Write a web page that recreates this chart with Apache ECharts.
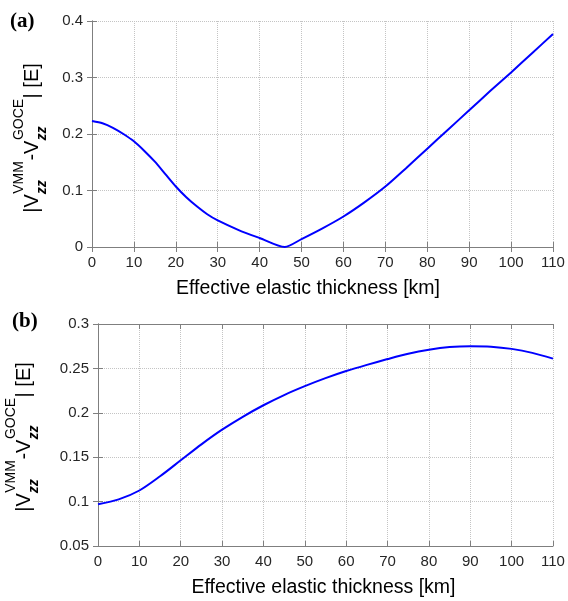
<!DOCTYPE html>
<html>
<head>
<meta charset="utf-8">
<script src="https://cdn.jsdelivr.net/npm/echarts@6/dist/echarts.min.js"></script>
<style>
html,body{margin:0;padding:0;background:#fff;}
#chart{width:568px;height:601px;}
</style>
</head>
<body>
<div id="chart"></div>
<script>
// ---- data ----
const thicknessA = [0, 2.5, 5, 7.5, 10, 12.5, 15, 17.5, 20, 22.5, 25, 27.5, 30, 35, 40, 46, 50, 55, 60, 65, 70, 75, 80, 85, 90, 95, 100, 105, 110];
const misfitA = [0.223, 0.219, 0.211, 0.200, 0.187, 0.170, 0.151, 0.129, 0.107, 0.088, 0.072, 0.058, 0.047, 0.030, 0.016, 0.000, 0.014, 0.033, 0.054, 0.079, 0.107, 0.140, 0.174, 0.208, 0.242, 0.276, 0.309, 0.343, 0.377];
const thicknessB = [0, 5, 10, 15, 20, 25, 30, 35, 40, 45, 50, 55, 60, 65, 70, 75, 80, 85, 90, 95, 100, 105, 110];
const misfitB = [0.097, 0.1025, 0.1125, 0.1285, 0.1465, 0.1645, 0.181, 0.1955, 0.2085, 0.2200, 0.2300, 0.2390, 0.2470, 0.2540, 0.2605, 0.2665, 0.2710, 0.2740, 0.2750, 0.2745, 0.2720, 0.2675, 0.2610];
const xTitle = 'Effective elastic thickness [km]';
const panelLabels = ['(a)', '(b)'];

const FF = '"Liberation Sans", Arial, Helvetica, sans-serif';
const mainFont = '20px ' + FF;
const supFont = '14px ' + FF;
const subFont = 'italic bold 14px ' + FF;
const cvs = document.createElement('canvas').getContext('2d');
function tw(t, f){ cvs.font = f; return cvs.measureText(t).width; }

function yTitle(mainX, centerY){
  const supX = mainX - 13, subX = mainX + 10;
  const parts = [];
  let lx = 0;
  function main(t){ parts.push({type:'text', x: lx, y: mainX, style:{text:t, font:mainFont, fill:'#000', align:'left', verticalAlign:'middle'}}); lx += tw(t, mainFont); }
  function supsub(sup, sub){
    parts.push({type:'text', x: lx + 0.5, y: supX, style:{text:sup, font:supFont, fill:'#000', align:'left', verticalAlign:'middle'}});
    parts.push({type:'text', x: lx, y: subX, style:{text:sub, font:subFont, fill:'#000', align:'left', verticalAlign:'middle'}});
    lx += Math.max(tw(sup, supFont), tw(sub, subFont)) + 1;
  }
  main('|V'); supsub('VMM', 'zz'); main('-V'); supsub('GOCE', 'zz'); main('| [E]');
  const total = lx;
  return {type:'group', x: 0, y: centerY + total / 2, rotation: Math.PI / 2, children: parts, silent: true};
}

function xAx(gi, pos, showLabel, pad){
  return {
    type:'value', gridIndex: gi, position: pos, min: 0, max: 110, interval: 10,
    axisLine:{show:true, lineStyle:{color:'#7f7f7f', width:1}},
    axisTick:{show:true, inside:true, length:5, lineStyle:{color:'#7f7f7f'}},
    axisLabel:{show: showLabel, color:'#262626', fontSize:15, fontFamily:FF, margin:8},
    splitLine:{show: showLabel, lineStyle:{color:'#c4c4c4', type:[1,1], width:1}},
    name: showLabel ? xTitle : '', nameLocation:'middle', nameGap: 32,
    nameTextStyle:{color:'#000', fontSize:19.5, fontFamily:FF, verticalAlign:'top', padding: pad}
  };
}
function yAx(gi, pos, showLabel, mn, mx, iv){
  return {
    type:'value', gridIndex: gi, position: pos, min: mn, max: mx, interval: iv,
    axisLine:{show:true, lineStyle:{color:'#7f7f7f', width:1}},
    axisTick:{show:true, inside:true, length:5, lineStyle:{color:'#7f7f7f'}},
    axisLabel:{show: showLabel, color:'#262626', fontSize:15, fontFamily:FF, margin:9},
    splitLine:{show: showLabel, lineStyle:{color:'#c4c4c4', type:[1,1], width:1}}
  };
}

const chart = echarts.init(document.getElementById('chart'), null, {renderer:'canvas'});
chart.setOption({
  backgroundColor:'#fff',
  animation:false,
  grid:[
    {left:92, top:21, width:461, height:226},
    {left:98, top:324, width:455, height:222}
  ],
  xAxis:[
    xAx(0, 'bottom', true, [0, 29, 0, 0]),
    xAx(0, 'top', false, 0),
    xAx(1, 'bottom', true, [0, 4, 0, 0]),
    xAx(1, 'top', false, 0)
  ],
  yAxis:[
    yAx(0, 'left', true, 0, 0.4, 0.1),
    yAx(0, 'right', false, 0, 0.4, 0.1),
    yAx(1, 'left', true, 0.05, 0.3, 0.05),
    yAx(1, 'right', false, 0.05, 0.3, 0.05)
  ],
  series:[
    {type:'line', xAxisIndex:0, yAxisIndex:0, data: thicknessA.map((x,i)=>[x, misfitA[i]]),
     showSymbol:false, smooth:0.25, lineStyle:{color:'#0000ff', width:2}},
    {type:'line', xAxisIndex:2, yAxisIndex:2, data: thicknessB.map((x,i)=>[x, misfitB[i]]),
     showSymbol:false, smooth:0.3, lineStyle:{color:'#0000ff', width:2}}
  ],
  graphic:[
    {type:'text', left:10, top:11, style:{text:panelLabels[0], font:'bold 21px "Liberation Serif", "Times New Roman", serif', fill:'#000'}},
    {type:'text', left:12, top:311, style:{text:panelLabels[1], font:'bold 21px "Liberation Serif", "Times New Roman", serif', fill:'#000'}},
    yTitle(32.5, 138),
    yTitle(24.5, 437)
  ]
});
</script>
</body>
</html>
